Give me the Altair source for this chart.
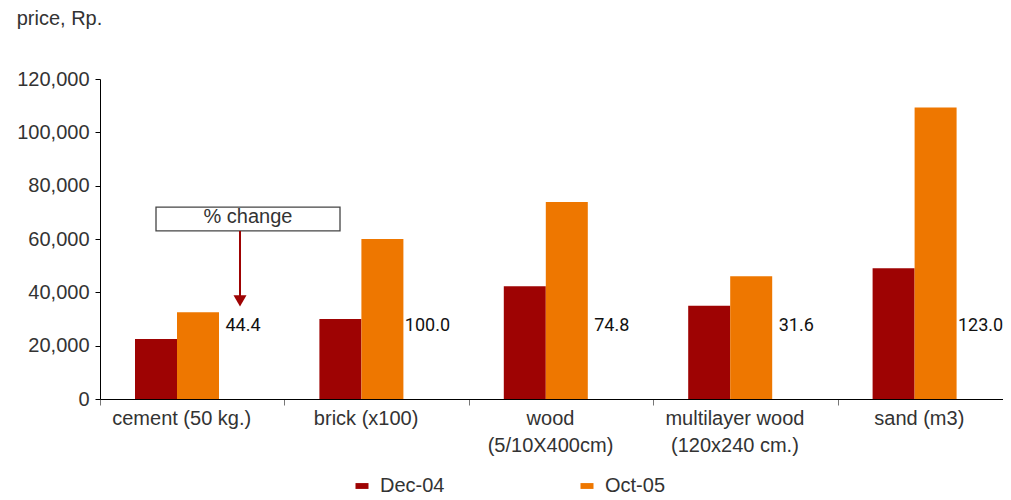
import altair as alt
import pandas as pd

categories = ["cement (50 kg.)", "brick (x100)", "wood\n(5/10X400cm)",
              "multilayer wood\n(120x240 cm.)", "sand (m3)"]
series = ["Dec-04", "Oct-05"]
dec04 = [22500, 30000, 42300, 35000, 49000]
oct05 = [32500, 60000, 73900, 46000, 109300]
pct_change = ["44.4", "100.0", "74.8", "31.6", "123.0"]
y_ticks = [0, 20000, 40000, 60000, 80000, 100000, 120000]

colors = ["#9E0303", "#EE7700"]
slots = series + ["% change"]
FONT = "Liberation Sans"
NARROW = "Roboto"

rows = []
for c, a, b in zip(categories, dec04, oct05):
    rows.append({"category": c, "series": series[0], "value": a})
    rows.append({"category": c, "series": series[1], "value": b})
df_bars = pd.DataFrame(rows)
df_lab = pd.DataFrame({"category": categories, "slot": ["% change"] * 5, "label": pct_change})
df_ann = pd.DataFrame({"category": [categories[0]], "slot": ["% change"], "text": ["% change"]})

x_enc = alt.X("category:N", sort=categories,
              scale=alt.Scale(domain=categories, range=[0, 922], paddingInner=0, paddingOuter=0),
              axis=alt.Axis(title=None, tickBand="extent", labelAngle=0, labelFont=FONT,
                            labelFontSize=20, labelColor="#333", labelExpr="split(datum.label, '\\n')",
                            labelLineHeight=27, labelOffset=-11, tickSize=6, tickColor="#777",
                            domainColor="#000", labelPadding=3, labelBaseline="top", labelLimit=300))
off_scale = alt.Scale(domain=slots, range=[35, 161], paddingInner=0, paddingOuter=0)
y_scale = alt.Scale(domain=[0, 120000], nice=False)
y_enc = alt.Y("value:Q", scale=y_scale,
              axis=alt.Axis(title=None, values=y_ticks, format=",.0f", labelFont=FONT, labelFontSize=20,
                            labelColor="#333", tickSize=5, tickColor="#000", domainColor="#000",
                            labelPadding=6, grid=False))

legend_shape = "M-1,-0.45L1,-0.45L1,0.45L-1,0.45Z"
bars = alt.Chart(df_bars).mark_bar().encode(
    x=x_enc,
    xOffset=alt.XOffset("series:N", scale=off_scale),
    y=y_enc,
    color=alt.Color("series:N", scale=alt.Scale(domain=series, range=colors),
                    legend=alt.Legend(orient="none", legendX=252, legendY=397, direction="horizontal",
                                      title=None, symbolType=legend_shape, symbolSize=169,
                                      symbolStrokeWidth=0, labelFont=FONT, labelFontSize=20,
                                      labelColor="#333", columnPadding=132, labelOffset=8)),
)

labels = alt.Chart(df_lab).mark_text(font=NARROW, fontSize=18, dx=3, baseline="middle",
                                     align="center", color="#111").encode(
    x=alt.X("category:N", sort=categories),
    xOffset=alt.XOffset("slot:N"),
    y=alt.datum(27400),
    text="label:N",
)

box_shape = "M-0.913,-0.13L1.087,-0.13L1.087,0.13L-0.913,0.13Z"
box = alt.Chart(df_ann).mark_point(shape=box_shape, size=33856, filled=False, stroke="#444",
                                   strokeWidth=1.3, opacity=1).encode(
    x=alt.X("category:N", sort=categories),
    xOffset=alt.XOffset("slot:N"),
    y=alt.datum(67500),
)
box_text = alt.Chart(df_ann).mark_text(font=FONT, fontSize=20, color="#333", dx=8,
                                       baseline="middle").encode(
    x=alt.X("category:N", sort=categories),
    xOffset=alt.XOffset("slot:N"),
    y=alt.datum(68300),
    text="text:N",
)
arrow = alt.Chart(df_ann).mark_rule(color="#9E0303", strokeWidth=2).encode(
    x=alt.X("category:N", sort=categories),
    xOffset=alt.XOffset("slot:N"),
    y=alt.datum(63000),
    y2=alt.datum(38000),
)
head = alt.Chart(df_ann).mark_point(shape="triangle-down", size=170, filled=True,
                                    color="#9E0303", opacity=1).encode(
    x=alt.X("category:N", sort=categories),
    xOffset=alt.XOffset("slot:N"),
    y=alt.datum(36800),
)

chart = alt.layer(bars, labels, box, box_text, arrow, head).properties(
    width=903, height=320,
    autosize=alt.AutoSizeParams(type="none"),
    padding={"left": 92, "top": 71, "right": 0, "bottom": 99},
    title=alt.Title("price, Rp.", anchor="start", frame="bounds", fontSize=20, font=FONT,
                    color="#333", fontWeight="normal", offset=40),
).configure_view(stroke=None)

chart.save("out.html", embed_options={"renderer": "svg", "actions": False})
